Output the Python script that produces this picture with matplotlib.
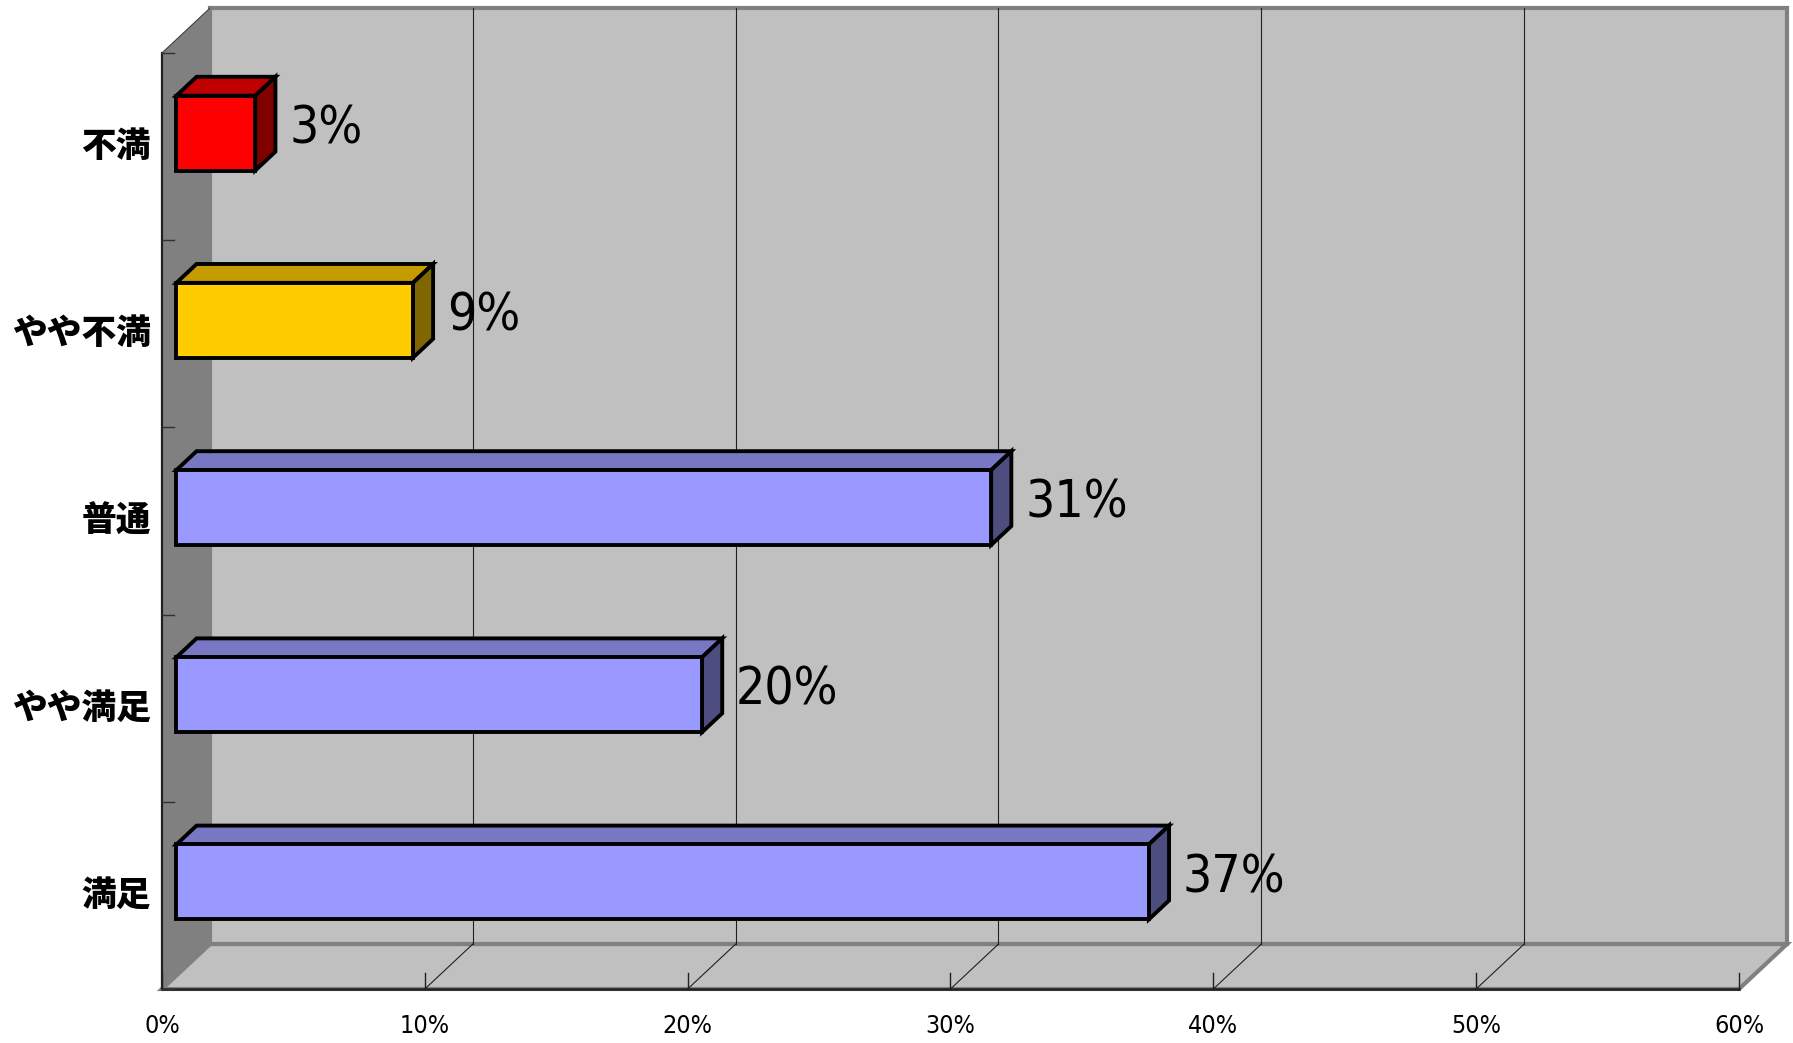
import matplotlib
matplotlib.use("Agg")
import matplotlib.pyplot as plt
from matplotlib.patches import Polygon

# data (top to bottom as in the chart)
categories = ["不満", "やや不満", "普通", "やや満足", "満足"]
values = [3, 9, 31, 20, 37]
value_labels = ["3%", "9%", "31%", "20%", "37%"]
tick_values = [0, 10, 20, 30, 40, 50, 60]
tick_labels = ["0%", "10%", "20%", "30%", "40%", "50%", "60%"]

front_colors = ["#FF0000", "#FFCC00", "#9999FF", "#9999FF", "#9999FF"]
top_colors = ["#C00000", "#C49C00", "#7777C4", "#7777C4", "#7777C4"]
side_colors = ["#800000", "#806600", "#4D4D80", "#4D4D80", "#4D4D80"]

XMAX = 60
NCAT = len(categories)
DX, DY = 1.826, 0.240      # depth of the 3d box in data units
D0, D1 = 0.30, 0.72        # bar depth range
BAR_H = 0.40

narrow = ["Liberation Sans Narrow", "DejaVu Sans"]
cjk = ["Noto Sans CJK JP", "DejaVu Sans"]

fig = plt.figure(figsize=(17.93, 10.43), dpi=100)
ax = fig.add_axes([0, 0, 1, 1])
ax.set_xlim(-6.164, 62.055)
ax.set_ylim(-0.2885, 5.283)
ax.axis("off")


def shift(x, y, d):
    return (x + d * DX, y + d * DY)


# walls
left_wall = [(0, 0), (0, NCAT), shift(0, NCAT, 1), shift(0, 0, 1)]
back_wall = [shift(0, 0, 1), shift(0, NCAT, 1), shift(XMAX, NCAT, 1), shift(XMAX, 0, 1)]
floor = [(0, 0), (XMAX, 0), shift(XMAX, 0, 1), shift(0, 0, 1)]

ax.add_patch(Polygon(back_wall, closed=True, facecolor="#C0C0C0",
                     edgecolor="#808080", lw=3, zorder=1))
ax.add_patch(Polygon(floor, closed=True, facecolor="#C0C0C0",
                     edgecolor="#808080", lw=3, zorder=1))
ax.add_patch(Polygon(left_wall, closed=True, facecolor="#808080",
                     edgecolor="none", zorder=2))
ax.plot([0, 0], [0, NCAT], color="#202020", lw=1.6, zorder=3)
ax.plot([0, DX], [NCAT, NCAT + DY], color="#404040", lw=0.8, zorder=3)
ax.plot([0, XMAX], [0, 0], color="#202020", lw=1.8, zorder=3)

# gridlines on back wall and floor
for t in tick_values[1:-1]:
    bx, by = shift(t, 0, 1)
    ax.plot([bx, bx], [by, NCAT + DY], color="#202020", lw=0.8, zorder=2)
    ax.plot([t, bx], [0, by], color="#202020", lw=0.8, zorder=2)

# ticks
for t in tick_values:
    ax.plot([t, t], [0, 0.085], color="#202020", lw=1.0, zorder=3)
for k in range(NCAT + 1):
    ax.plot([0, 0.46], [k, k], color="#303030", lw=1.0, zorder=3)

# bars
for i, v in enumerate(values):
    c = NCAT - i - 0.5
    y0, y1 = c - BAR_H / 2, c + BAR_H / 2
    front = [shift(0, y0, D0), shift(0, y1, D0), shift(v, y1, D0), shift(v, y0, D0)]
    top = [shift(0, y1, D0), shift(0, y1, D1), shift(v, y1, D1), shift(v, y1, D0)]
    side = [shift(v, y0, D0), shift(v, y1, D0), shift(v, y1, D1), shift(v, y0, D1)]
    for poly, col in [(top, top_colors[i]), (side, side_colors[i]), (front, front_colors[i])]:
        ax.add_patch(Polygon(poly, closed=True, facecolor=col, edgecolor="black",
                             lw=2.8, joinstyle="miter", zorder=5))
    ly = c + (D0 + D1) / 2 * DY
    lx = v + D1 * DX
    ax.annotate(value_labels[i], (lx, ly), xytext=(10, -4), textcoords="offset points",
                ha="left", va="center", fontsize=37, family=narrow,
                fontstretch="condensed", zorder=6)

# category labels
for i, name in enumerate(categories):
    ax.text(-0.42, NCAT - i - 0.5, name, ha="right", va="center",
            fontsize=25, fontweight="black", family=cjk)

# x tick labels
for t, lab in zip(tick_values, tick_labels):
    ax.text(t, -0.198, lab, ha="center", va="center", fontsize=18,
            family=narrow, fontstretch="condensed")

fig.savefig("out.png", dpi=100)
